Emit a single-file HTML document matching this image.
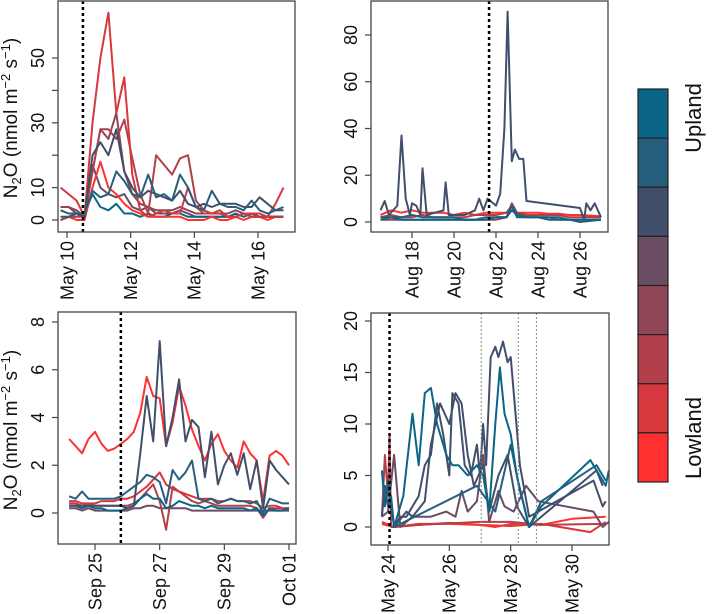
<!DOCTYPE html>
<html><head><meta charset="utf-8"><style>
html,body{margin:0;padding:0;background:#fff;}
svg{display:block;font-family:"Liberation Sans",Arial,sans-serif;}
</style></head><body>
<svg id="chart" width="714" height="614" viewBox="0 0 714 614"></svg>
<script>
const COLORS = ['#ff3030','#d6383d','#b23f4a','#8e4556','#6a4c63','#414f6b','#255f7c','#0b6587'];
const legendLabels = ['Lowland','Upland'];

// Panel 1 (May 10-17)
const p1Times = [9.8,10.05,10.3,10.55,10.8,11.05,11.3,11.55,11.8,12.05,12.3,12.55,12.8,13.05,13.3,13.55,13.8,14.05,14.3,14.55,14.8,15.05,15.3,15.55,15.8,16.05,16.3,16.55,16.8];
const p1A = [10,8,6,1,30,50,64,33,44,14,3,1,2,3,2,2,10,4,2,2,3,1,1,2,2,2,1,5,10];
const p1B = [0,1,1,1,15,28,28,25,31,19,8,2,20,17,14,19,20,6,3,2,2,1,1,2,1,1,1,1,1];
const p1C = [4,4,3,1,15,28,25,33,15,8,5,4,3,3,3,4,3,2,2,2,2,2,3,2,2,1,1,1,1];
const p1D = [3,2,2,1,20,24,20,28,15,10,7,9,8,7,6,9,5,4,5,4,5,5,5,4,4,7,5,3,3];
const p1E = [1,1,2,2,9,7,8,15,12,8,7,14,7,8,6,14,10,4,3,9,5,4,4,3,6,3,2,3,4];
const p1F = [0,1,1,2,8,4,3,5,2,2,1,2,1,1,2,2,1,1,1,1,1,1,2,1,2,1,1,1,1];
const p1G = [0,1,0,0,10,18,10,8,5,3,2,1,1,1,1,1,0,0,0,1,0,0,1,0,1,1,0,1,1];
const p1H = [4,4,2,1,17,10,8,7,8,4,3,4,2,2,2,3,2,1,1,1,1,1,1,2,1,1,1,1,1];

// Panel 2 (Aug 16-27)
const p2Times = [16.5,17,17.5,18,18.5,19,19.5,20,20.5,21,21.5,22,22.5,22.75,23,23.5,24,24.5,25,25.5,26,27];
const p2Red = [3,5,4,5,4,4,4,3,4,3,4,4,4,5,4,4,4,3.5,3.5,3,3,2.5];
const p2Red2 = [2,3,2,2,3,2,2,2,2,3,3,3,4,7,4,3,3,3,3,2,2,2];
const p2Blue = [1,2,1,1,1,1,1,1,1,1,1,2,2,5,3,2,2,2,2,1,1,1];
const p2Purple = [1,1,1,1,1,1,1,1,1,1,1,1,2,8,4,2,2,2,1,1,1,1];
const p2Teal = [2,2,2,3,2,2,2,2,1,1,2,2,2,7,2,2,2,1,1,1,0,1];
const p2DarkT = [16.5,16.7,16.9,17.2,17.3,17.5,17.7,17.9,18,18.2,18.4,18.5,18.7,19.5,19.6,19.75,20.5,21.0,21.2,21.4,21.6,22.0,22.2,22.4,22.55,22.75,22.9,23.1,23.3,23.45,26.0,26.2,26.3,26.5,26.7,27];
const p2DarkV = [5,9,3,6,7,37,10,3,8,7,3,23,3,5,17,3,3,5,10,5,10,7,12,40,90,26,31,27,27,9,6,1,8,5,8,2];

// Panel 3 (Sep 24 - Oct 1)
const p3Times = [24.2,24.4,24.6,24.8,25.0,25.2,25.4,25.6,25.8,26.0,26.2,26.4,26.6,26.8,27.0,27.2,27.4,27.6,27.8,28.0,28.2,28.4,28.6,28.8,29.0,29.2,29.4,29.6,29.8,30.0,30.2,30.4,30.6,30.8,31.0];
const p3Red = [3.1,2.8,2.5,3.1,3.4,2.9,2.6,2.7,2.9,3.1,3.4,4.2,5.7,4.9,4.8,2.8,3.8,5.3,4.5,3.5,2.8,2.2,2.9,3.3,2.6,2.2,1.9,3.0,2.5,2.2,0.5,2.4,2.6,2.4,2.0];
const p3Dark = [0.3,0.3,0.3,0.3,0.3,0.3,0.3,0.3,0.3,0.2,0.3,2.5,4.9,3.0,7.2,2.8,4.0,5.6,3.0,3.9,3.6,1.5,3.4,1.2,2.0,2.5,1.6,2.5,1.0,2.2,0.2,2.2,1.8,1.5,1.2];
const p3Teal = [0.7,0.6,0.9,0.6,0.6,0.6,0.6,0.6,0.7,0.9,1.1,1.3,1.6,1.5,1.3,0.4,1.8,1.4,1.7,2.2,0.6,0.5,0.6,0.4,0.5,0.6,0.5,0.5,0.4,0.5,0,0.6,0.5,0.4,0.4];
const p3Blue = [0.3,0.3,0.2,0.3,0.2,0.2,0.1,0.1,0.1,0.2,0.3,0.6,0.8,0.6,0.6,0.2,0.3,0.5,0.4,0.3,0.3,0.2,0.3,0.2,0.2,0.2,0.2,0.2,0.1,0.2,-0.1,0.2,0.1,0.1,0.2];
const p3Red2 = [0.5,0.5,0.4,0.4,0.4,0.5,0.5,0.5,0.6,0.6,0.7,0.9,1.1,1.4,1.7,1.2,1.0,0.9,0.8,0.7,0.6,0.6,0.6,0.5,0.5,0.6,0.5,0.5,0.5,0.4,0.2,0.3,0.3,0.2,0.2];
const p3Red3 = [0.4,0.4,0.3,0.4,0.3,0.3,0.3,0.3,0.3,0.3,0.4,0.6,0.9,1.2,0.5,-0.7,1.1,0.9,0.7,0.5,0.4,0.5,0.4,0.3,0.3,0.3,0.3,0.3,0.3,0.2,-0.2,0.2,0.2,0.2,0.2];
const p3Purple = [0.2,0.2,0.1,0.2,0.1,0.1,0.1,0.1,0.1,0.1,0.2,0.2,0.3,0.3,0.2,0.2,0.2,0.2,0.2,0.1,0.1,0.1,0.1,0.1,0.1,0.1,0.1,0.1,0.1,0.1,0.1,0.1,0.1,0.1,0.1];

// Panel 4 (May 24-31)
const p4Dark1T = [23.8,23.9,24.0,24.1,24.2,24.4,24.6,24.8,25.0,25.2,25.4,25.6,25.8,26.0,26.1,26.3,26.5,26.7,26.9,27.0,27.1,27.2,27.35,27.5,27.6,27.75,27.9,28.0,28.3,28.6,30.7,31.0,31.1];
const p4Dark1V = [1,4,2,3,0,1,1,2,3,6,7,12,9,5,13,12,6,5,8,5,10,6,16.5,17.5,16.5,18,16,16.5,6,1,4.5,2,2.5];
const p4Teal1T = [23.8,23.9,24.0,24.1,24.2,24.5,24.8,25.0,25.2,25.4,25.6,25.9,26.1,26.3,26.6,26.9,27.1,27.3,27.5,27.65,27.8,28.0,28.2,28.6,29.0,30.6,31.1,31.2];
const p4Teal1V = [5.5,2,4.5,2,0,3,11,6,13,13.5,10,7,6,6,5,6,5,1.5,10,15.5,11,9,5,0,2,6.5,4,5.5];
const p4Teal2T = [24.2,26.9,27.5,28.0,28.3,28.4,28.6,29.0,30.8,31.1];
const p4Teal2V = [0,4,1.5,8,3.5,2.5,0,2.5,6,4.5];
const p4Dark2T = [24.2,24.6,24.8,25.2,25.4,25.7,26.0,26.2,26.4,26.6,26.8,27.1,27.3,27.6,27.9,28.2,28.6,30.8,31.0];
const p4Dark2V = [0,1.5,1,2.5,8,12,10,13,12,7,4,6,1.5,5,7,2,0,5.5,4];
const p4PurpleT = [23.8,24.0,24.2,24.4,24.8,25.4,25.9,26.2,26.4,26.6,26.9,27.1,27.3,27.6,27.8,28.1,28.5,28.9,30.7,31.0,31.2];
const p4PurpleV = [1,1.5,7,0,1,1,1.5,1,3.5,1.5,2.5,7,0.5,3.5,2,1.5,4,2.5,1.5,0,0.5];
const p4RedAT = [23.8,23.9,24.0,24.05,24.1,24.2,25,27,28,29,31.1];
const p4RedAV = [1,7,3,9,0,0,0.2,0.5,0.5,0.2,0.3];
const p4RedBT = [23.8,24.2,25,26,27,27.5,28,29,30,31.1];
const p4RedBV = [0.5,0,0.3,0.3,0.2,0,0.3,0.2,0.8,1.0];
const p4RedCT = [23.8,24.2,25,26,27,28,29,30.6,31.1];
const p4RedCV = [0.3,0,0.2,0.4,0.2,0.1,0.3,-0.5,0.5];

const NS='http://www.w3.org/2000/svg';
const svg=document.getElementById('chart');
function el(tag,attrs,parent){const e=document.createElementNS(NS,tag);for(const k in attrs)e.setAttribute(k,attrs[k]);(parent||svg).appendChild(e);return e;}

function panel(cfg){
  const g=el('g',{});
  
  
  const sx=v=>cfg.x0+(v-cfg.xd[0])/(cfg.xd[1]-cfg.xd[0])*(cfg.x1-cfg.x0);
  const sy=v=>cfg.yb+(v-cfg.yd[0])/(cfg.yd[1]-cfg.yd[0])*(cfg.yt-cfg.yb);
  cfg.series.forEach((s,i)=>{
    const pts=s.t.map((t,j)=>sx(t).toFixed(1)+','+sy(s.v[j]).toFixed(1)).join(' ');
    const p=el('polyline',{points:pts,fill:'none',stroke:COLORS[s.c],'stroke-width':2,'stroke-linejoin':'round'},g);
    
    
  });
  (cfg.vgrey||[]).forEach(v=>{
    const l=el('line',{x1:sx(v),x2:sx(v),y1:cfg.top,y2:cfg.bot,stroke:'#888','stroke-width':1,'stroke-dasharray':'2,2'},g);
    
    
  });
  const vl=el('line',{x1:sx(cfg.vline),x2:sx(cfg.vline),y1:cfg.top,y2:cfg.bot,stroke:'#000','stroke-width':2.5,'stroke-dasharray':'3,3'},g);
  
  
  const b=el('rect',{x:cfg.left,y:cfg.top,width:cfg.right-cfg.left,height:cfg.bot-cfg.top,fill:'none',stroke:'#444','stroke-width':1.3},g);
  
  
  cfg.yTicks.forEach((t,i)=>{
    const y=sy(t);
    el('line',{x1:cfg.left,x2:cfg.left-6,y1:y,y2:y,stroke:'#444','stroke-width':1.2},g);
    if(cfg.yLabels[i]!==''){
      const tx=el('text',{x:cfg.left-14,y:y,'font-size':18,'text-anchor':'middle',fill:'#111',transform:`rotate(-90 ${cfg.left-14} ${y})`},g);
      tx.textContent=cfg.yLabels[i];
      
      
    }
  });
  cfg.xTicks.forEach((t,i)=>{
    const x=sx(t);
    el('line',{x1:x,x2:x,y1:cfg.bot,y2:cfg.bot+6,stroke:'#444','stroke-width':1.2},g);
    const tx=el('text',{x:x,y:cfg.bot+9,dy:'0.35em','font-size':18,'text-anchor':'end',fill:'#111',transform:`rotate(-90 ${x} ${cfg.bot+9})`},g);
    tx.textContent=cfg.xLabels[i];
    
    
  });
}

const p1Labels=['0','10','','30','','50'];
panel({name:'panel-may-10',left:58,right:295,top:1,bot:232,x0:67,x1:258,xd:[10,16],yb:220,yt:58,yd:[0,50],
  vline:10.5,yTicks:[0,10,20,30,40,50],yLabels:p1Labels,xTicks:[10,12,14,16],xLabels:['May 10','May 12','May 14','May 16'],
  series:[{t:p1Times,v:p1H,c:4},{t:p1Times,v:p1F,c:7},{t:p1Times,v:p1G,c:0},{t:p1Times,v:p1C,c:3},{t:p1Times,v:p1B,c:2},{t:p1Times,v:p1A,c:1},{t:p1Times,v:p1D,c:5},{t:p1Times,v:p1E,c:6}]});
panel({name:'panel-aug-16',left:371,right:608,top:1,bot:232,x0:412,x1:580,xd:[18,26],yb:222,yt:35,yd:[0,80],
  vline:21.67,yTicks:[0,20,40,60,80],yLabels:['0','20','40','60','80'],xTicks:[18,20,22,24,26],xLabels:['Aug 18','Aug 20','Aug 22','Aug 24','Aug 26'],
  series:[{t:p2Times,v:p2Red,c:0},{t:p2Times,v:p2Red2,c:2},{t:p2Times,v:p2Purple,c:3},{t:p2DarkT,v:p2DarkV,c:5},{t:p2Times,v:p2Teal,c:6},{t:p2Times,v:p2Blue,c:7}]});
panel({name:'panel-sep-24',left:58,right:296,top:312,bot:544,x0:95,x1:289,xd:[25,31],yb:513,yt:322,yd:[0,8],
  vline:25.8,yTicks:[0,2,4,6,8],yLabels:['0','2','4','6','8'],xTicks:[25,27,29,31],xLabels:['Sep 25','Sep 27','Sep 29','Oct 01'],
  series:[{t:p3Times,v:p3Purple,c:4},{t:p3Times,v:p3Red3,c:2},{t:p3Times,v:p3Red2,c:1},{t:p3Times,v:p3Blue,c:7},{t:p3Times,v:p3Teal,c:6},{t:p3Times,v:p3Red,c:0},{t:p3Times,v:p3Dark,c:5}]});
panel({name:'panel-may-24',left:371,right:609,top:313,bot:545,x0:388,x1:572,xd:[24,30],yb:527,yt:321,yd:[0,20],
  vline:24.05,vgrey:[27.04,28.25,28.84],yTicks:[0,5,10,15,20],yLabels:['0','5','10','15','20'],xTicks:[24,26,28,30],xLabels:['May 24','May 26','May 28','May 30'],
  series:[{t:p4RedCT,v:p4RedCV,c:1},{t:p4RedBT,v:p4RedBV,c:0},{t:p4RedAT,v:p4RedAV,c:2},{t:p4PurpleT,v:p4PurpleV,c:4},{t:p4Dark2T,v:p4Dark2V,c:5},{t:p4Dark1T,v:p4Dark1V,c:5},{t:p4Teal2T,v:p4Teal2V,c:6},{t:p4Teal1T,v:p4Teal1V,c:7}]});

[118,430].forEach((cy,i)=>{
  const t=el('text',{x:17,y:cy,'font-size':19,'text-anchor':'middle',fill:'#111',transform:`rotate(-90 17 ${cy})`});
  
  
  t.innerHTML='N<tspan font-size="13" dy="4">2</tspan><tspan dy="-4">O (nmol m</tspan><tspan font-size="13" dy="-7">−2</tspan><tspan dy="7"> s</tspan><tspan font-size="13" dy="-7">−1</tspan><tspan dy="7">)</tspan>';
});

const lg=el('g',{});


const lTop=89, lBot=482, cellH=(lBot-lTop)/8;
for(let i=0;i<8;i++){
  const r=el('rect',{x:638,y:lTop+i*cellH,width:30,height:cellH,fill:COLORS[7-i],stroke:'#222','stroke-width':1.2},lg);
  
  
}
const up=el('text',{x:701,y:118,'font-size':22,'text-anchor':'middle',fill:'#111',transform:'rotate(-90 701 118)'},lg);
up.textContent=legendLabels[1];


const lo=el('text',{x:701,y:438,'font-size':22,'text-anchor':'middle',fill:'#111',transform:'rotate(-90 701 438)'},lg);
lo.textContent=legendLabels[0];


</script>
</body></html>
